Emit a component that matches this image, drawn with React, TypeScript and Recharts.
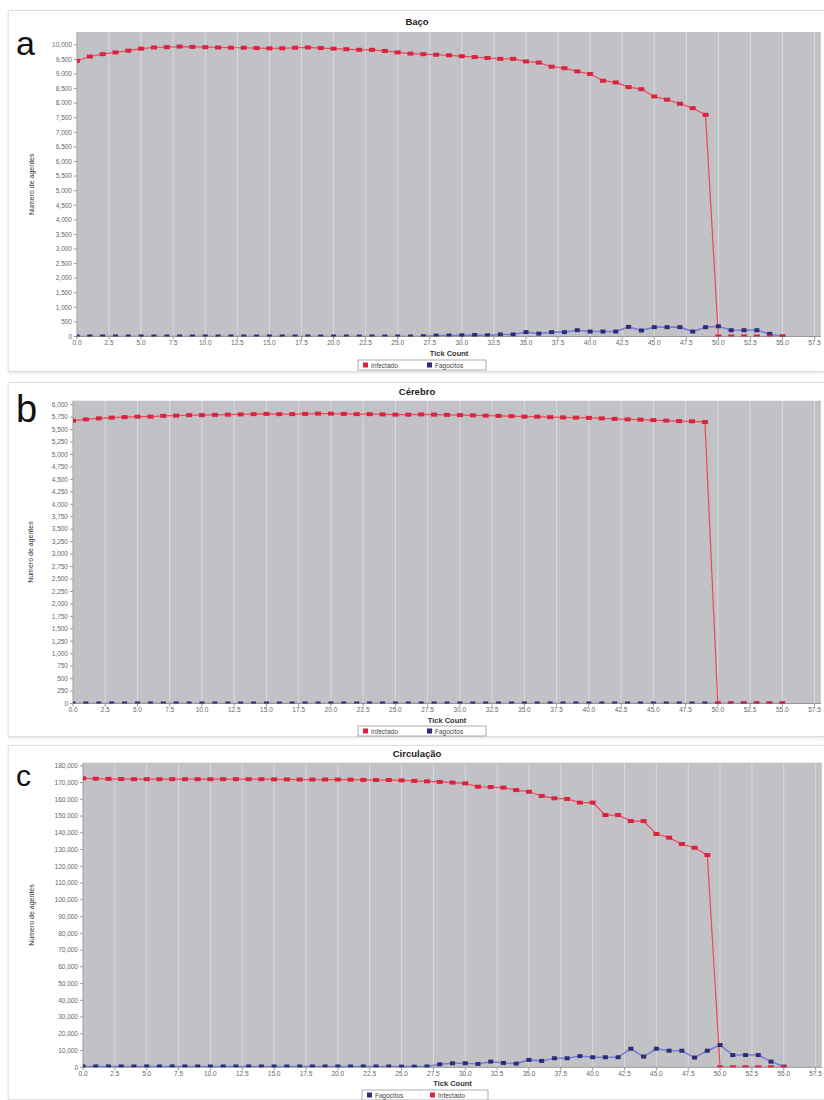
import React from "react";
import { LineChart, Line, XAxis, YAxis, CartesianGrid } from "recharts";

const TICKS = [
  0, 1, 2, 3, 4, 5, 6, 7, 8, 9, 10, 11, 12, 13, 14, 15, 16, 17, 18, 19, 20, 21, 22, 23, 24, 25, 26, 27,
  28, 29, 30, 31, 32, 33, 34, 35, 36, 37, 38, 39, 40, 41, 42, 43, 44, 45, 46, 47, 48, 49, 50, 51, 52, 53,
  54, 55,
];

const X_TICKS = [
  0, 2.5, 5, 7.5, 10, 12.5, 15, 17.5, 20, 22.5, 25, 27.5, 30, 32.5, 35, 37.5, 40, 42.5, 45, 47.5, 50,
  52.5, 55, 57.5,
];

// Baço
const BACO_RED = [
  9450, 9600, 9680, 9740, 9800, 9870, 9910, 9920, 9940, 9930,
  9920, 9910, 9900, 9900, 9890, 9880, 9880, 9900, 9910, 9890,
  9870, 9850, 9830, 9830, 9790, 9740, 9700, 9680, 9660, 9640,
  9610, 9580, 9550, 9520, 9520, 9430, 9390, 9250, 9200, 9090,
  9000, 8770, 8710, 8550, 8480, 8230, 8120, 7980, 7830, 7600,
  0, 0, 0, 0, 0, 0,
];
const BACO_BLUE = [
  0, 0, 0, 0, 0, 0, 0, 0, 0, 0,
  0, 0, 0, 0, 0, 0, 0, 0, 0, 0,
  0, 0, 0, 0, 0, 0, 0, 10, 30, 35,
  40, 50, 40, 70, 70, 150, 100, 150, 150, 215,
  170, 170, 170, 330, 205, 320, 320, 320, 170, 320,
  350, 215, 215, 215, 90, 0,
];
const BACO_Y_TICKS = [
  0, 500, 1000, 1500, 2000, 2500, 3000, 3500, 4000, 4500, 5000, 5500, 6000, 6500, 7000, 7500, 8000,
  8500, 9000, 9500, 10000,
];

// Cérebro
const CEREBRO_RED = [
  5680, 5705, 5725, 5740, 5750, 5760, 5760, 5775, 5780, 5790,
  5790, 5795, 5800, 5805, 5810, 5815, 5810, 5810, 5815, 5820,
  5820, 5815, 5810, 5810, 5805, 5800, 5800, 5805, 5800, 5795,
  5790, 5785, 5780, 5775, 5770, 5760, 5760, 5750, 5745, 5740,
  5735, 5725, 5715, 5705, 5700, 5690, 5680, 5670, 5665, 5650,
  0, 0, 0, 0, 0, 0,
];
const CEREBRO_BLUE = [
  0, 0, 0, 0, 0, 0, 0, 0, 0, 0,
  0, 0, 0, 0, 0, 0, 0, 0, 0, 0,
  0, 0, 0, 0, 0, 0, 0, 0, 0, 0,
  0, 0, 0, 0, 0, 0, 0, 0, 0, 0,
  0, 0, 0, 0, 0, 0, 0, 0, 0, 0,
  0, 0, 0, 0, 0, 0,
];
const CEREBRO_Y_TICKS = [
  0, 250, 500, 750, 1000, 1250, 1500, 1750, 2000, 2250, 2500, 2750, 3000, 3250, 3500, 3750, 4000,
  4250, 4500, 4750, 5000, 5250, 5500, 5750, 6000,
];

// Circulação
const CIRC_RED = [
  172500, 172300, 172200, 172100, 172000, 172000, 172000, 172000, 172000, 172000,
  172000, 172000, 172000, 172000, 172000, 171900, 171900, 171800, 171800, 171800,
  171800, 171700, 171600, 171500, 171500, 171300, 171000, 170700, 170400, 170000,
  169500, 167500, 167300, 167000, 165500, 164500, 162000, 160600, 160200, 158000,
  158000, 150600, 150600, 147000, 147000, 139300, 137100, 133300, 131100, 126700,
  0, 0, 0, 0, 0, 0,
];
const CIRC_BLUE = [
  500, 500, 500, 500, 500, 500, 500, 500, 500, 500,
  500, 500, 500, 500, 500, 500, 500, 500, 500, 500,
  500, 500, 500, 500, 500, 400, 400, 500, 1800, 2400,
  2400, 2000, 3400, 2600, 2200, 4400, 3800, 5400, 5400, 6700,
  6000, 6000, 6000, 11100, 6400, 11100, 9900, 9900, 5800, 9900,
  13300, 7300, 7300, 7300, 3400, 400,
];
const CIRC_Y_TICKS = [
  0, 10000, 20000, 30000, 40000, 50000, 60000, 70000, 80000, 90000, 100000, 110000, 120000, 130000,
  140000, 150000, 160000, 170000, 180000,
];

const RED = "#f0455a";
const RED_DOT = "#d8243e";
const BLUE = "#7c7cd6";
const BLUE_DOT = "#2c2c78";
const FONT = "'Liberation Sans', Arial, sans-serif";

const W = 824;

const makeDot = (color: string, w: number, h: number) => (props: any) => {
  const { cx, cy, index } = props;
  if (cx == null || cy == null) return <g key={`d${index}`} />;
  return <rect key={`d${index}`} x={cx - w / 2} y={cy - h / 2} width={w} height={h} fill={color} />;
};

type LegendItem = { name: string; color: string };

type PanelProps = {
  title: string;
  letter: string;
  letterSize: number;
  letterBase: number;
  frameTop: number;
  frameBottom: number;
  plotLeft: number;
  plotRight: number;
  plotTop: number;
  plotBottom: number;
  yMax: number;
  yTicks: number[];
  red: number[];
  blue: number[];
  titleY: number;
  countY: number;
  legendY: number;
  legendX: number;
  legendW: number;
  legend: LegendItem[];
};

const Panel = (p: PanelProps) => {
  const data = TICKS.map((t, i) => ({ tick: t, red: p.red[i], blue: p.blue[i] }));
  const xAxisH = 14;
  const height = p.plotBottom - p.frameTop + xAxisH;
  return (
    <>
      <div
        style={{
          position: "absolute",
          left: 8,
          top: p.frameTop,
          width: W - 8,
          height: p.frameBottom - p.frameTop,
          background: "#fff",
          borderTop: "1px solid #dedede",
          borderLeft: "1px solid #e6e6e6",
          borderBottom: "1px solid #dedede",
          boxShadow: "0 1px 3px rgba(0,0,0,0.12)",
          boxSizing: "border-box",
        }}
      />
      <div style={{ position: "absolute", left: 0, top: p.frameTop }}>
        <LineChart
          width={W}
          height={height}
          data={data}
          margin={{ top: p.plotTop - p.frameTop, right: W - p.plotRight, bottom: 0, left: 0 }}
        >
          <CartesianGrid
            fill="#c2c2c6"
            fillOpacity={1}
            stroke="#ffffff"
            strokeOpacity={0.4}
            horizontal={false}
          />
          <XAxis
            type="number"
            dataKey="tick"
            domain={[0, 58]}
            ticks={X_TICKS}
            interval={0}
            allowDataOverflow
            tickFormatter={(v: number) => v.toFixed(1)}
            tick={{ fontSize: 6.5, fill: "#666", fontFamily: FONT }}
            tickSize={3}
            tickMargin={1}
            height={xAxisH}
            stroke="#999"
          />
          <YAxis
            type="number"
            domain={[0, p.yMax]}
            ticks={p.yTicks}
            interval={0}
            allowDataOverflow
            tickFormatter={(v: number) => v.toLocaleString("en-US")}
            tick={{ fontSize: 6.5, fill: "#666", fontFamily: FONT }}
            tickSize={3}
            tickMargin={2}
            width={p.plotLeft}
            stroke="#999"
          />
          <Line
            type="linear"
            dataKey="blue"
            stroke={BLUE}
            strokeWidth={1.6}
            dot={makeDot(BLUE_DOT, 5, 4)}
            activeDot={false}
            isAnimationActive={false}
          />
          <Line
            type="linear"
            dataKey="red"
            stroke={RED}
            strokeWidth={1.2}
            dot={makeDot(RED_DOT, 6, 4)}
            activeDot={false}
            isAnimationActive={false}
          />
        </LineChart>
      </div>
      <svg
        width={W}
        height={p.frameBottom - p.frameTop}
        style={{ position: "absolute", left: 0, top: p.frameTop, pointerEvents: "none" }}
      >
        <g transform={`translate(0, ${-p.frameTop})`} fontFamily={FONT}>
          <text x={417} y={p.titleY} textAnchor="middle" dominantBaseline="central" fontSize={9.5} fontWeight="bold" fill="#222">
            {p.title}
          </text>
          <text x={16} y={p.letterBase} fontSize={p.letterSize} fill="#111">
            {p.letter}
          </text>
          <text
            x={31}
            y={(p.plotTop + p.plotBottom) / 2}
            transform={`rotate(-90 31 ${(p.plotTop + p.plotBottom) / 2})`}
            textAnchor="middle"
            dominantBaseline="central"
            fontSize={7}
            fill="#333"
          >
            Número de agentes
          </text>
          <text
            x={(p.plotLeft + p.plotRight) / 2}
            y={p.countY}
            textAnchor="middle"
            dominantBaseline="central"
            fontSize={7.5}
            fontWeight="bold"
            fill="#333"
          >
            Tick Count
          </text>
          <rect x={p.legendX} y={p.legendY - 5} width={p.legendW} height={10} fill="#fff" stroke="#999" strokeWidth={0.8} />
          {p.legend.map((item, i) => {
            const x0 = p.legendX + 5 + i * (p.legendW / 2);
            return (
              <g key={item.name}>
                <rect x={x0} y={p.legendY - 2.5} width={5} height={5} fill={item.color} />
                <text x={x0 + 8} y={p.legendY} dominantBaseline="central" fontSize={6.5} fill="#444">
                  {item.name}
                </text>
              </g>
            );
          })}
        </g>
      </svg>
    </>
  );
};

const LEGEND_RB: LegendItem[] = [
  { name: "Infectado", color: RED_DOT },
  { name: "Fagocitos", color: BLUE_DOT },
];
const LEGEND_BR: LegendItem[] = [
  { name: "Fagocitos", color: BLUE_DOT },
  { name: "Infectado", color: RED_DOT },
];

export default function App() {
  return (
    <div style={{ position: "absolute", left: 0, top: 0, width: W, height: 1100, background: "#fff", overflow: "hidden" }}>
      <Panel
        title="Baço"
        letter="a"
        letterSize={34}
        letterBase={55}
        frameTop={10}
        frameBottom={372}
        plotLeft={77}
        plotRight={821}
        plotTop={32}
        plotBottom={336.5}
        yMax={10440}
        yTicks={BACO_Y_TICKS}
        red={BACO_RED}
        blue={BACO_BLUE}
        titleY={21}
        countY={353}
        legendY={365}
        legendX={358}
        legendW={128}
        legend={LEGEND_RB}
      />
      <Panel
        title="Cérebro"
        letter="b"
        letterSize={38}
        letterBase={422}
        frameTop={382}
        frameBottom={737}
        plotLeft={73}
        plotRight={821}
        plotTop={400.7}
        plotBottom={703.5}
        yMax={6080}
        yTicks={CEREBRO_Y_TICKS}
        red={CEREBRO_RED}
        blue={CEREBRO_BLUE}
        titleY={391}
        countY={720}
        legendY={731}
        legendX={358}
        legendW={128}
        legend={LEGEND_RB}
      />
      <Panel
        title="Circulação"
        letter="c"
        letterSize={30}
        letterBase={786}
        frameTop={745}
        frameBottom={1100}
        plotLeft={83}
        plotRight={822}
        plotTop={762.7}
        plotBottom={1067.3}
        yMax={181850}
        yTicks={CIRC_Y_TICKS}
        red={CIRC_RED}
        blue={CIRC_BLUE}
        titleY={753}
        countY={1083}
        legendY={1095}
        legendX={362}
        legendW={126}
        legend={LEGEND_BR}
      />
    </div>
  );
}
